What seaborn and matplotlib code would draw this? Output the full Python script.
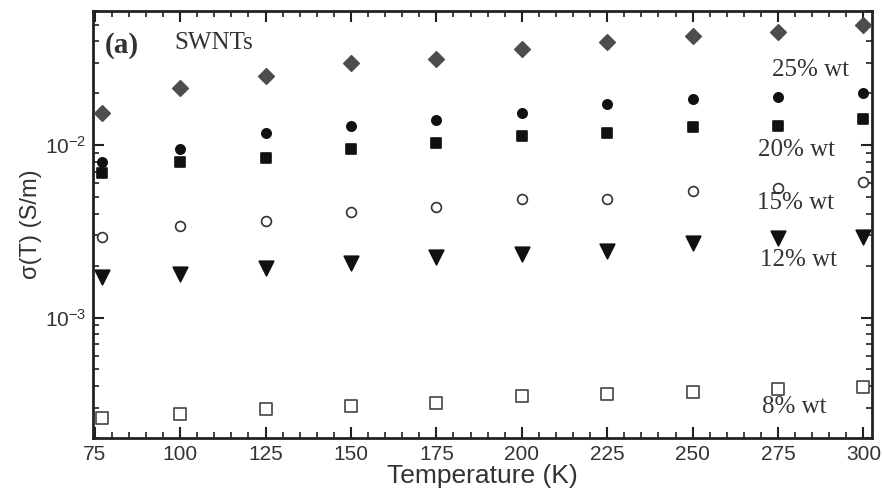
import numpy as np
import pandas as pd
import matplotlib
matplotlib.use('Agg')
import matplotlib.pyplot as plt
import seaborn as sns
from matplotlib.ticker import LogLocator, MultipleLocator, NullFormatter

sns.set_theme(style='ticks')
plt.rcParams['font.family'] = ['Liberation Sans', 'DejaVu Sans']

# temperature (K)
temps = [77, 100, 125, 150, 175, 200, 225, 250, 275, 300]

# conductivity values (S/m)
diamonds = [0.0154, 0.0214, 0.0252, 0.0300, 0.0316, 0.0361, 0.0397, 0.0430, 0.0454, 0.0499]
circles_filled = [0.0080, 0.0095, 0.0117, 0.0129, 0.0140, 0.0154, 0.0173, 0.0185, 0.0190, 0.0200]
squares_filled = [0.0069, 0.0080, 0.0084, 0.0095, 0.0103, 0.0113, 0.0117, 0.0127, 0.0129, 0.0142]
circles_open = [0.00292, 0.00338, 0.00361, 0.00407, 0.00436, 0.00485, 0.0049, 0.0054, 0.00562, 0.0061]
triangles = [0.00171, 0.00180, 0.00193, 0.00206, 0.00223, 0.00235, 0.00242, 0.00269, 0.00288, 0.00292]
squares_open = [0.000262, 0.000277, 0.000296, 0.000308, 0.000320, 0.000352, 0.000358, 0.000372, 0.000387, 0.000397]

labels = ['25% wt', '20% wt', '15% wt', '12% wt', '8% wt']
label_pos = [(0.872, 0.862), (0.854, 0.674), (0.852, 0.550), (0.856, 0.417), (0.859, 0.073)]

# series: values, marker, size, face, edge
series = [
    (diamonds, 'D', 62, '#4d4d4d', '#4d4d4d'),
    (circles_filled, 'o', 45, '#111111', '#111111'),
    (squares_filled, 's', 62, '#111111', '#111111'),
    (circles_open, 'o', 50, 'white', '#333333'),
    (triangles, 'v', 110, '#111111', '#111111'),
    (squares_open, 's', 65, 'white', '#444444'),
]

fig = plt.figure(figsize=(8.82, 4.9), dpi=100)
ax = fig.add_axes([0.1054, 0.1061, 0.8833, 0.8715])

for vals, mk, sz, fc, ec in series:
    df = pd.DataFrame({'T': temps, 'sigma': vals})
    sns.scatterplot(data=df, x='T', y='sigma', marker=mk, s=sz, color=fc,
                    edgecolor=ec, linewidth=1.2, ax=ax, zorder=3, clip_on=False)

ax.set_yscale('log')
ax.set_xlim(74.5, 302.5)
ax.set_ylim(2.0e-4, 0.060)

ax.xaxis.set_major_locator(MultipleLocator(25))
ax.xaxis.set_minor_locator(MultipleLocator(5))
ax.yaxis.set_major_locator(LogLocator(base=10, numticks=10))
ax.yaxis.set_minor_locator(LogLocator(base=10, subs=np.arange(2, 10), numticks=20))
ax.yaxis.set_minor_formatter(NullFormatter())

ax.tick_params(which='both', direction='in', top=True, right=True, colors='#222222')
ax.tick_params(which='major', length=8, width=1.5, labelsize=15, labelcolor='#333333', pad=5)
ax.tick_params(which='minor', length=4, width=1.2)
for sp in ax.spines.values():
    sp.set_linewidth(2)
    sp.set_color('#222222')

ax.set_xlabel('Temperature (K)', fontsize=19, color='#333333', labelpad=0)
ax.set_ylabel('σ(T) (S/m)', fontsize=17, color='#333333', labelpad=2)

ax.text(0.015, 0.920, '(a)', transform=ax.transAxes, fontsize=21, fontweight='bold',
        family='Liberation Serif', color='#333333', va='center', ha='left')
ax.text(0.105, 0.925, 'SWNTs', transform=ax.transAxes, fontsize=18,
        family='Liberation Serif', color='#333333', va='center', ha='left')
for lab, (xf, yf) in zip(labels, label_pos):
    ax.text(xf, yf, lab, transform=ax.transAxes, fontsize=18,
            family='Liberation Serif', color='#333333', va='center', ha='left')

fig.savefig('out.png', dpi=100)
